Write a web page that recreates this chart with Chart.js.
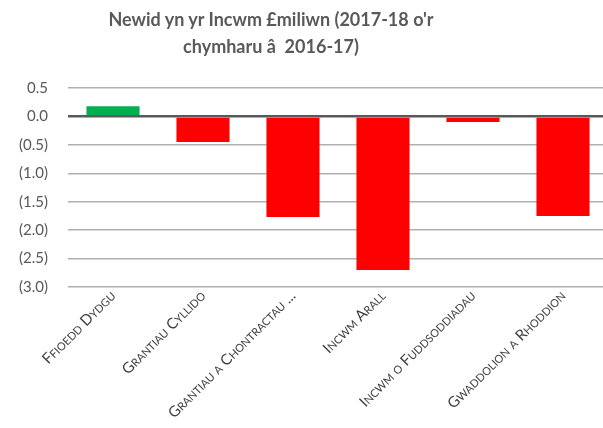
<!DOCTYPE html>
<html>
<head>
<meta charset="utf-8">
<script src="https://cdn.jsdelivr.net/npm/chart.js@4/dist/chart.umd.min.js"></script>
<style>
  html, body { margin: 0; padding: 0; background: #fff; overflow: hidden; }
  .wrap { position: relative; width: 608px; height: 428px; }
  .title {
    position: absolute; left: 0; top: 6px; width: 542px;
    text-align: center; font: bold 18px Lato, sans-serif; color: #595959;
    line-height: 27px;
  }
</style>
</head>
<body>
<div class="wrap">
  <div class="title">Newid yn yr Incwm £miliwn (2017-18 o'r<br>chymharu â&nbsp; 2016-17)</div>
  <canvas id="chart" width="608" height="428"></canvas>
</div>
<script>
/* ── Data ── */
const categories = [
  'Ffioedd Dydgu',
  'Grantiau Cyllido',
  'Grantiau a Chontractau ...',
  'Incwm Arall',
  'Incwm o Fuddsoddiadau',
  'Gwaddolion a Rhoddion'
];
const changes = [0.18, -0.45, -1.77, -2.70, -0.10, -1.75];
const yTicks  = [0.5, 0.0, -0.5, -1.0, -1.5, -2.0, -2.5, -3.0];

const GREEN = '#00b050';
const RED   = '#ff0000';

function fmtTick(v) {
  if (Math.abs(v) < 1e-9) return '0.0';
  return v < 0 ? '(' + Math.abs(v).toFixed(1) + ')' : v.toFixed(1);
}

const canvas = document.getElementById('chart');

new Chart(canvas, {
  type: 'bar',
  data: {
    labels: categories,
    datasets: [{
      data: changes,
      backgroundColor: changes.map(v => v >= 0 ? GREEN : RED),
      borderWidth: 0,
      barPercentage: 0.59,
      categoryPercentage: 1
    }]
  },
  options: {
    responsive: false,
    animation: false,
    layout: { padding: { top: 88, right: 0, bottom: 0, left: 0 } },
    plugins: {
      legend: { display: false },
      tooltip: { enabled: false }
    },
    scales: {
      x: {
        grid: { display: false },
        border: { display: false },
        // labels run off the bottom edge, as in the original picture
        afterFit: scale => { scale.height = 141; },
        ticks: {
          color: '#404040',
          minRotation: 45,
          maxRotation: 45,
          autoSkip: false,
          padding: -8,
          // weight slot carries the font-variant so the canvas draws small caps
          font: { family: "Lato, sans-serif", size: 15, weight: 'small-caps' }
        }
      },
      y: {
        min: yTicks[yTicks.length - 1],
        max: yTicks[0],
        afterBuildTicks: scale => { scale.ticks = yTicks.map(v => ({ value: v })); },
        afterFit: scale => { scale.width = 68; },
        grid: {
          drawTicks: false,
          color: ctx => ctx.tick && ctx.tick.value === 0 ? '#595959' : '#b0b0b0',
          lineWidth: ctx => ctx.tick && ctx.tick.value === 0 ? 2.5 : 1.5
        },
        border: { display: false },
        ticks: {
          color: '#595959',
          padding: 20,
          font: { family: "Lato, sans-serif", size: 15 },
          callback: v => fmtTick(v)
        }
      }
    }
  }
});
</script>
</body>
</html>
